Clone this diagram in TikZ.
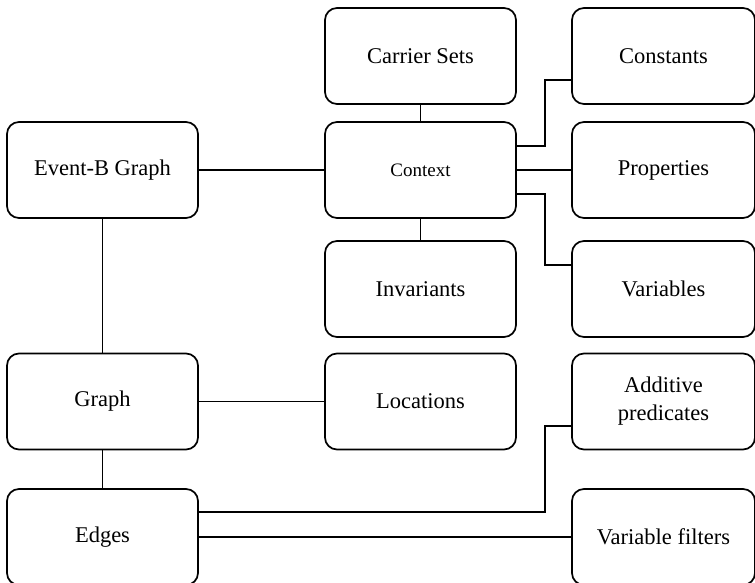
\documentclass[tikz,border=0pt]{standalone}
\usepackage{fontspec}
\setmainfont{Liberation Serif}
\usetikzlibrary{positioning}

\begin{document}
\begin{tikzpicture}[
    x=1pt,
    y=1pt,
    bloc/.style={
        rectangle,
        draw,
        rounded corners=12pt,
        line width=1.7pt,
        minimum width=191pt,
        minimum height=96pt,
        inner sep=0pt,
        align=center,
        font=\fontsize{22.5}{28}\selectfont
    },
    blocdroit/.style={
        bloc,
        minimum width=183pt
    },
    petit/.style={
        font=\fontsize{19}{23}\selectfont
    },
    lien/.style={
        line width=1.6pt
    }
]

\useasboundingbox (0,0) rectangle (755,-583);

% Left column
\node[bloc] (eventb) at (102.5,-170) {Event-B Graph};
\node[bloc] (graph) at (102.5,-401.5) {Graph};
\node[bloc] (edges) at (102.5,-537) {Edges};

% Middle column
\node[bloc] (carrier) at (420.5,-56) {Carrier Sets};
\node[bloc, petit] (context) at (420.5,-170) {Context};
\node[bloc] (invariants) at (420.5,-289) {Invariants};
\node[bloc] (locations) at (420.5,-401.5) {Locations};

% Right column
\node[blocdroit] (constants) at (663.5,-56) {Constants};
\node[blocdroit] (properties) at (663.5,-170) {Properties};
\node[blocdroit] (variables) at (663.5,-289) {Variables};
\node[blocdroit] (additive) at (663.5,-401.5) {Additive\\predicates};
\node[blocdroit] (filters) at (663.5,-537) {Variable filters};

% Straight links
\draw[lien] (eventb) -- (context);
\draw[lien] (eventb) -- (graph);
\draw[lien] (graph) -- (edges);
\draw[lien] (graph) -- (locations);
\draw[lien] (carrier) -- (context);
\draw[lien] (context) -- (invariants);
\draw[lien] (context) -- (properties);
\draw[lien] (edges) -- (filters);

% Elbow links
\draw[lien] ([yshift=24pt]context.east) -- ++(28,0)
    |- ([yshift=-24pt]constants.west);
\draw[lien] ([yshift=-24pt]context.east) -- ++(28,0)
    |- ([yshift=24pt]variables.west);
\draw[lien] ([yshift=25pt]edges.east) -- ++(346,0)
    |- ([yshift=-24.5pt]additive.west);

\end{tikzpicture}
\end{document}
